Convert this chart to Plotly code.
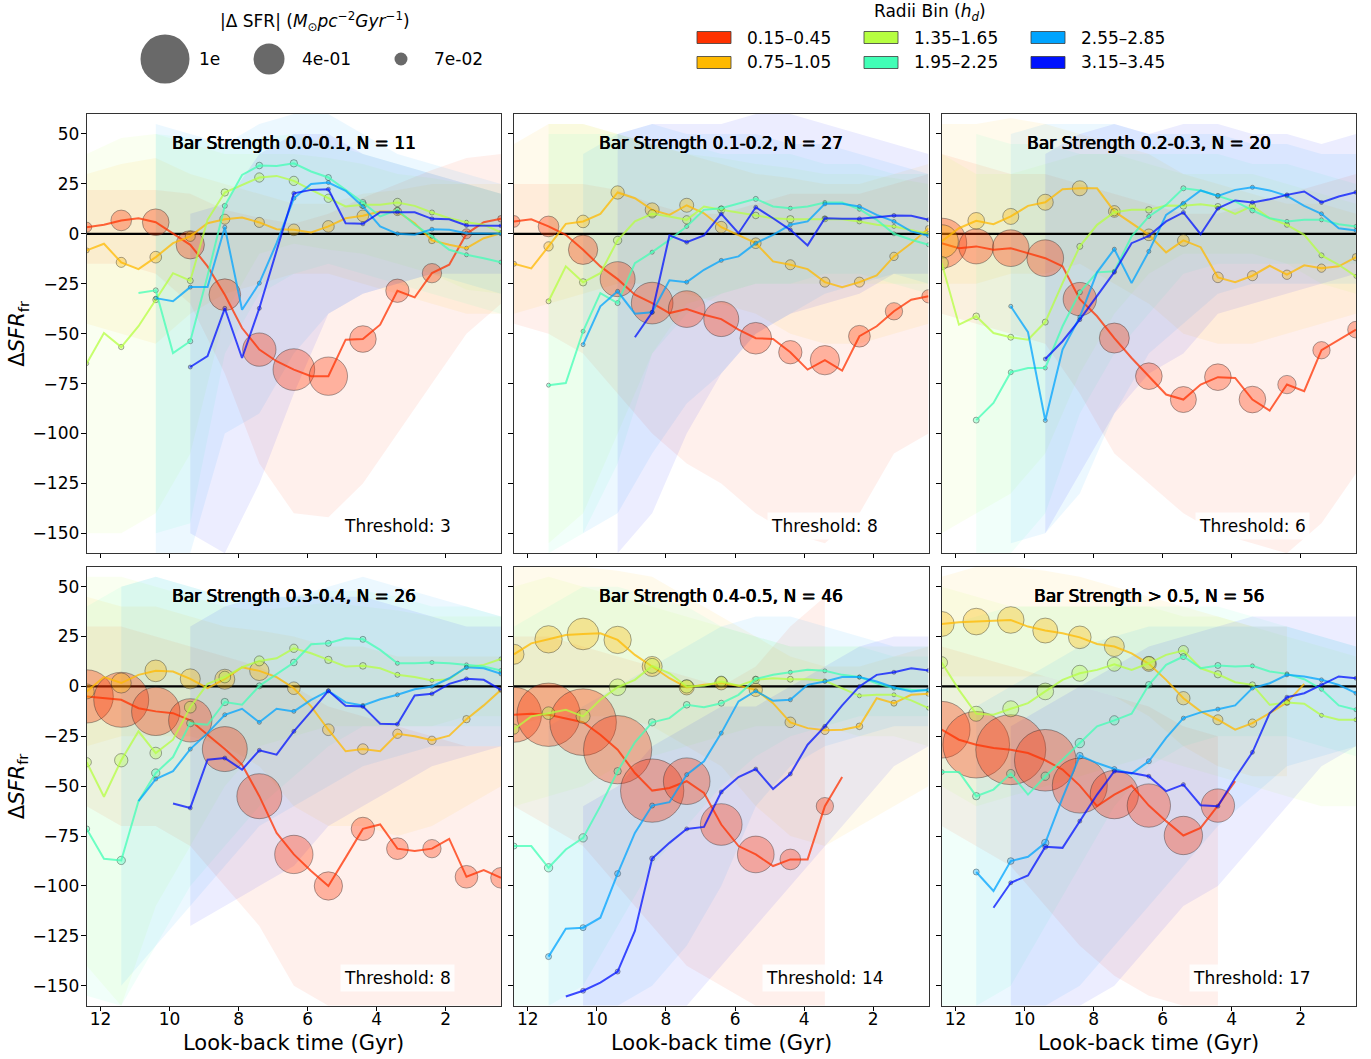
import plotly.graph_objects as go

N = None

# ---------------- data ----------------
TIMES = [12.4, 11.9, 11.4, 10.9, 10.4, 9.9, 9.4, 8.9, 8.4, 7.9, 7.4, 6.9, 6.4,
         5.9, 5.4, 4.9, 4.4, 3.9, 3.4, 2.9, 2.4, 1.9, 1.4, 0.9, 0.4]
MARKER_TIMES = [12.4, 11.4, 10.4, 9.4, 8.4, 7.4, 6.4, 5.4, 4.4, 3.4, 2.4, 1.4, 0.4]

RADII_LABELS = ["0.15\u20130.45", "0.75\u20131.05", "1.35\u20131.65",
                "1.95\u20132.25", "2.55\u20132.85", "3.15\u20133.45"]
RADII_COLORS = ["#FF3200", "#FFB900", "#B6FF41", "#41FFB6", "#00A4FF", "#0012FF"]

PANEL_TITLES = ["Bar Strength 0.0-0.1, N = 11", "Bar Strength 0.1-0.2, N = 27",
                "Bar Strength 0.2-0.3, N = 20", "Bar Strength 0.3-0.4, N = 26",
                "Bar Strength 0.4-0.5, N = 46", "Bar Strength > 0.5, N = 56"]
THRESHOLDS = [3, 8, 6, 8, 14, 17]

SIZE_LEGEND_VALUES = [1.0, 0.4, 0.07]
SIZE_LEGEND_LABELS = ["1e", "4e-01", "7e-02"]

X_TICKS = [12, 10, 8, 6, 4, 2]
Y_TICKS = [50, 25, 0, -25, -50, -75, -100, -125, -150]

# ---- Panel 1 : 0.0-0.1 ----
P1_Y = [
    [3.3, 4.5, 6.7, 7.8, 5.8, 0.3, -5.5, -16.3, -30.5, -47.2, -58, -63.8, -68, -71.3, -71.3, -53, -52.7, -45.5, -28.5, -31.8, -19.7, -15.5, 0, 5.8, 7.5],
    [-8.3, -5, -14.3, -17.7, -11.7, -4.7, -1.3, 5.3, 7.3, 8.2, 5.7, 2.3, 2, 0.7, 3.7, 7.8, 9, 11.2, 11.2, 5.3, -3.3, -5.5, -7.2, -2.2, 0.3],
    [-65, -49.7, -56.7, -46.3, -33, -19.7, -23.5, 7, 20.7, 24.5, 28.2, 29, 26.5, 22, 17.8, 13.7, 14.5, 14.5, 15.7, 14, 10.7, 7.8, 5.8, 4.5, 0.7],
    [N, N, N, -29.7, -28.3, -59.7, -53.8, -21, 14, 29.5, 34.2, 34, 35.3, 31.2, 28.2, 22, 15.7, 8.7, 12, 4.5, -1.3, -8, -10.5, -12.2, -14.2],
    [N, N, N, N, -32.2, -33.8, -26.7, -26.7, 3.3, -38, -24.7, -4.7, 17.8, 25, 25.7, 21.5, 13.7, 3.7, 0, -0.5, 2.3, 2, 0.3, 0, 0],
    [N, N, N, N, N, N, -66.7, -61.3, -37.3, -62.2, -37.3, -8, 20.3, 22, 22.3, 5.3, 5, 10.8, 10.8, 10.8, 7.5, 7.3, 4.2, 4, 4],
]
P1_S = [
    [0.042, 0.178, 0.296, 0.334, 0.418, 0.463, 0.723, 0.612, 0.296, 0.227, 0.156, 0.042, 0.0185],
    [0.0104, 0.042, 0.057, 0.042, 0.042, 0.042, 0.057, 0.057, 0.057, 0.029, 0.0185, 0.0067, 0.003],
    [0.0046, 0.0118, 0.015, 0.015, 0.0224, 0.0363, 0.0363, 0.029, 0.0224, 0.029, 0.0104, 0.0046, 0.0017],
    [N, N, 0.0104, 0.0104, 0.0104, 0.0185, 0.0224, 0.015, 0.015, 0.0104, 0.0046, 0.003, 0.0017],
    [N, N, 0.0046, 0.0046, 0.0046, 0.003, 0.0046, 0.0046, 0.003, 0.003, 0.003, 0.0017, 0.0012],
    [N, N, N, 0.0017, 0.0017, 0.003, 0.003, 0.003, 0.003, 0.003, 0.0017, 0.0017, 0.0012],
]
P1_LO = [
    [-15, -15, -20, -35, -70, -115, -140, -142, -125, -100, -75, -50, -35],
    [-45, -50, -55, -40, -30, -25, -20, -20, -25, -30, -35, -40, -40],
    [-150, -150, -140, -110, -40, -10, -5, -8, -10, -15, -20, -28, -30],
    [N, N, -150, -145, -60, -30, -20, -15, -20, -25, -30, -35, -40],
    [N, N, -160, -160, -100, -90, -60, -40, -30, -25, -20, -25, -30],
    [N, N, N, -150, -160, -125, -80, -40, -30, -25, -20, -20, -20],
]
P1_HI = [
    [22, 22, 22, 20, 12, 8, 5, 10, 18, 25, 32, 38, 40],
    [30, 35, 38, 30, 25, 20, 15, 15, 20, 22, 25, 25, 25],
    [40, 48, 50, 45, 40, 40, 40, 38, 35, 30, 28, 25, 20],
    [N, N, 50, 48, 45, 48, 50, 45, 40, 35, 30, 25, 20],
    [N, N, 55, 50, 45, 55, 60, 60, 50, 40, 35, 30, 25],
    [N, N, N, 10, 15, 40, 50, 50, 40, 35, 30, 25, 20],
]

# ---- Panel 2 : 0.1-0.2 ----
P2_Y = [
    [6.2, 7.3, 3.7, -0.5, -8, -16.3, -22.7, -30.5, -34.7, -39.7, -37.7, -40.5, -42.7, -48, -52.3, -52.7, -59.3, -68, -63.3, -68.5, -51.3, -46.3, -38.8, -33, -31.3],
    [-15, -17.3, -6.3, 5, 6.2, 10, 20.7, 17.8, 12, 9.5, 14.3, 10.3, 3.3, -0.5, -4.7, -13.8, -15.5, -17.7, -24.2, -26.8, -24.2, -20.8, -11.3, -4.7, 2.7],
    [N, N, -33.8, -16.3, -24.3, -19.7, -3.3, 6.2, 10, 8.7, 7, 13.7, 12, 10.7, 9.2, 7.8, 7.3, 7.3, 7.5, 7.3, 6.2, 4.5, 3.7, 1.7, 0],
    [N, N, -75.8, -74.7, -48.8, -29.7, -34.7, -14.7, -9.2, -3, 3.7, 12, 12.8, 15.3, 17.5, 13.7, 12.8, 13.7, 15.7, 15.7, 12.3, 7, 0, -3, -5.5],
    [N, N, N, N, -55.5, -36.3, -28.8, -40, -39.3, -23.3, -24.2, -18, -13.3, -11.3, -4.7, -0.5, 4.5, 6.2, 15, 15, 13.7, 9.5, 6.2, 1.2, -1],
    [N, N, N, N, N, N, N, -51.8, -39.3, -0.8, -4.2, -0.8, 10, 0.3, 13.3, 7.8, 2, -5.8, 7.8, 7.5, 7.5, 8.3, 9.2, 9, 7],
]
P2_S = [
    [0.057, 0.178, 0.358, 0.51, 0.723, 0.56, 0.51, 0.418, 0.227, 0.358, 0.196, 0.125, 0.074],
    [0.0104, 0.0363, 0.0668, 0.074, 0.0816, 0.0816, 0.057, 0.0474, 0.042, 0.042, 0.042, 0.029, 0.015],
    [N, 0.0104, 0.0224, 0.029, 0.029, 0.029, 0.0224, 0.0185, 0.0224, 0.015, 0.0104, 0.0067, 0.003],
    [N, 0.0046, 0.0067, 0.0104, 0.0067, 0.0067, 0.0104, 0.0104, 0.0067, 0.0067, 0.0046, 0.003, 0.0017],
    [N, N, 0.003, 0.003, 0.003, 0.003, 0.003, 0.003, 0.003, 0.003, 0.003, 0.003, 0.0017],
    [N, N, N, N, 0.003, 0.0017, 0.0017, 0.0017, 0.0017, 0.0017, 0.0017, 0.0017, 0.0012],
]
P2_LO = [
    [-45, -50, -60, -80, -100, -115, -125, -140, -150, -155, -140, -110, -100],
    [-40, -35, -30, -25, -25, -30, -35, -40, -50, -55, -55, -50, -45],
    [N, -155, -140, -100, -60, -35, -30, -25, -25, -25, -25, -25, -25],
    [N, -160, -150, -115, -60, -40, -30, -25, -25, -20, -20, -25, -30],
    [N, N, -150, -140, -110, -85, -70, -50, -40, -30, -25, -20, -25],
    [N, N, N, -160, -140, -100, -70, -50, -40, -35, -30, -20, -20],
]
P2_HI = [
    [25, 25, 25, 22, 15, 10, 10, 15, 20, 20, 20, 25, 30],
    [45, 55, 55, 50, 45, 40, 35, 30, 28, 25, 25, 30, 35],
    [N, 55, 55, 50, 45, 40, 38, 35, 33, 30, 30, 28, 25],
    [N, 50, 50, 50, 45, 45, 40, 40, 40, 35, 35, 30, 30],
    [N, N, 40, 50, 55, 50, 50, 50, 45, 45, 40, 35, 30],
    [N, N, N, 50, 55, 55, 55, 60, 60, 55, 50, 45, 40],
]

# ---- Panel 3 : 0.2-0.3 ----
P3_Y = [
    [-4.7, -7.2, -6.3, -8, -7.2, -9.7, -12.2, -16.3, -32.7, -41.3, -52.2, -62.2, -71.3, -80.5, -83, -75.5, -71.8, -72.2, -83, -88.5, -75.5, -78.8, -58.3, -53, -48],
    [-3.8, 2.8, 6.5, 4.8, 8.7, 14, 15.8, 22.3, 22.8, 22.8, 11.2, 5.3, -0.5, -9.3, -3.3, -6.7, -21.8, -24.2, -21, -16, -20.5, -15.8, -17.2, -16.3, -11.7],
    [-14.7, -45.5, -41.3, -49.7, -51.8, -53, -44.2, -24.7, -6.3, 4.5, 10.8, 12, 12, 14.2, 14, 14.8, 13.7, 10, 14, 7.8, 4.5, -0.5, -10.8, -15.5, -21.3],
    [N, N, -93.3, -84.7, -69.3, -67.2, -67.2, -46.3, -29.3, -19.3, -18.8, -1.3, 8.7, 14.5, 22.8, 21.7, 19, 16.2, 11.7, 7.8, 6.2, 7, 7, 4.8, 3.7],
    [N, N, N, N, -36.3, -49.3, -93.5, -58, -41.7, -19.3, -7.7, -24.7, -8.8, 9.5, 15.3, 21.7, 19, 22, 23.3, 21.7, 19, 14, 10, 2.8, 1.7],
    [N, N, N, N, N, N, -62.7, -53.8, -43, -31.3, -19.2, -4.7, -1, 6.2, 10.7, -0.2, 12.8, 16.7, 15.7, 17.3, 19.5, 21.2, 15.7, 18.7, 20.8],
]
P3_S = [
    [1.04, 0.51, 0.56, 0.56, 0.463, 0.375, 0.296, 0.282, 0.296, 0.296, 0.14, 0.125, 0.116],
    [0.463, 0.116, 0.107, 0.107, 0.094, 0.057, 0.057, 0.057, 0.0474, 0.042, 0.0363, 0.029, 0.0224],
    [0.074, 0.0185, 0.015, 0.015, 0.015, 0.0224, 0.0185, 0.0185, 0.015, 0.015, 0.0104, 0.0104, 0.0067],
    [N, 0.015, 0.0104, 0.0067, 0.0104, 0.0067, 0.0067, 0.0104, 0.0104, 0.0104, 0.0067, 0.0046, 0.003],
    [N, N, 0.003, 0.003, 0.003, 0.003, 0.003, 0.003, 0.003, 0.003, 0.0017, 0.0017, 0.0012],
    [N, N, N, 0.0017, 0.0017, 0.0017, 0.0017, 0.0017, 0.0017, 0.0017, 0.0017, 0.0017, 0.0012],
]
P3_LO = [
    [-40, -45, -50, -55, -80, -110, -125, -140, -150, -155, -160, -145, -120],
    [-25, -25, -20, -20, -15, -25, -35, -50, -55, -55, -50, -45, -40],
    [-150, -140, -130, -110, -70, -40, -20, -10, -10, -10, -15, -25, -30],
    [N, -160, -160, -140, -90, -60, -40, -20, -15, -15, -15, -15, -15],
    [N, N, -155, -150, -130, -90, -60, -45, -30, -25, -25, -25, -25],
    [N, N, N, -150, -120, -90, -70, -60, -40, -35, -30, -25, -20],
]
P3_HI = [
    [40, 35, 30, 30, 25, 20, 15, 10, 10, 15, 20, 25, 30],
    [55, 55, 58, 55, 50, 45, 40, 30, 25, 20, 15, 15, 10],
    [40, 30, 30, 35, 40, 40, 35, 30, 30, 30, 25, 20, 15],
    [N, 50, 45, 45, 40, 40, 40, 40, 40, 35, 35, 30, 25],
    [N, N, 50, 55, 55, 55, 50, 50, 50, 45, 45, 40, 40],
    [N, N, N, 40, 50, 55, 50, 55, 55, 50, 50, 45, 50],
]

# ---- Panel 4 : 0.3-0.4 ----
P4_Y = [
    [-5, -5.9, -6.7, -10.9, -12.5, -13.4, -17, -24.2, -31.4, -39.2, -55, -73.4, -84.2, -92.5, -100, -85.8, -71.4, -69.2, -81.3, -82.5, -81.3, -76.4, -95.4, -92, -95.9],
    [-2.5, 4.7, 1.7, 5.8, 7.8, 7.5, 3.8, -0.9, 3.6, 9.6, 7.8, 4.7, -0.9, -10, -21.7, -32.5, -31.4, -32.5, -23.7, -25, -27, -24.7, -16.4, -9.5, -1.7],
    [-38, -55.3, -37, -22.5, -33.4, -26.7, -10.4, 1.3, 4.7, 9.6, 12.8, 14.1, 19.1, 16.6, 13.3, 10, 10.3, 9.1, 5.8, 4.7, 3, 3.6, 9.6, 10.8, 13.8],
    [-71.4, -86.4, -87.2, -57.5, -43.4, -35.4, -18.4, -19.2, -7.8, -9.2, 0.3, 6.3, 12, 21.1, 21.6, 24.1, 23.6, 18.3, 11.6, 11.6, 12, 11.6, 10.8, 10, 8],
    [N, N, N, -57.5, -46.4, -42.5, -31.4, -23.4, -14.2, -11.2, -18, -11.2, -12.5, -6.7, -2.2, -8, -9.5, -6.4, -4.2, -1.4, 0, 4.1, 9.6, 9.1, 6.3],
    [N, N, N, N, N, -58.7, -60.9, -36.7, -35.9, -41.7, -32, -34.2, -22.5, -12.5, -2.2, -9.7, -10, -18.7, -18.9, -4.5, -3.7, 1.3, 3.8, 3.3, -1.7],
]
P4_S = [
    [1.18, 1.26, 0.973, 0.782, 0.843, 0.843, 0.612, 0.334, 0.227, 0.196, 0.14, 0.214, 0.178],
    [0.094, 0.167, 0.196, 0.167, 0.167, 0.156, 0.0668, 0.057, 0.0474, 0.0363, 0.029, 0.0224, 0.0104],
    [0.0363, 0.074, 0.057, 0.057, 0.057, 0.042, 0.029, 0.0224, 0.0185, 0.0104, 0.0067, 0.0046, 0.0046],
    [0.015, 0.029, 0.029, 0.0224, 0.0224, 0.015, 0.0185, 0.015, 0.015, 0.0067, 0.0046, 0.0046, 0.003],
    [N, N, 0.0067, 0.0046, 0.0046, 0.0046, 0.0046, 0.003, 0.003, 0.003, 0.0017, 0.0017, 0.0017],
    [N, N, N, 0.003, 0.003, 0.003, 0.003, 0.0017, 0.0017, 0.0017, 0.0017, 0.0017, 0.0012],
]
P4_LO = [
    [-60, -70, -70, -80, -100, -120, -150, -160, -160, -160, -160, -160, -160],
    [-30, -25, -25, -25, -30, -40, -60, -70, -70, -75, -70, -60, -50],
    [-140, -160, -110, -80, -50, -30, -25, -20, -20, -20, -20, -15, -15],
    [-155, -160, -130, -100, -80, -60, -45, -30, -20, -20, -20, -20, -20],
    [N, -150, -130, -110, -90, -70, -60, -50, -40, -35, -30, -30, -30],
    [N, N, N, -120, -110, -100, -90, -70, -60, -50, -40, -35, -30],
]
P4_HI = [
    [30, 30, 25, 20, 15, 10, 0, -10, -15, -20, -25, -30, -30],
    [45, 40, 40, 35, 30, 28, 25, 20, 20, 15, 15, 15, 15],
    [55, 55, 50, 45, 40, 38, 40, 42, 40, 38, 35, 35, 35],
    [40, 50, 55, 50, 45, 45, 45, 48, 48, 45, 40, 40, 35],
    [N, 50, 55, 50, 45, 45, 45, 50, 55, 50, 45, 40, 35],
    [N, N, N, 30, 40, 45, 45, 45, 45, 40, 35, 30, 30],
]

# ---- Panel 5 : 0.4-0.5 ----
P5_Y = [
    [-14.2, -13.7, -14.2, -15.9, -17.9, -24.2, -31.7, -43.4, -52.2, -50.9, -47.5, -53.4, -69.2, -80, -84.2, -90, -86.7, -86.7, -60, -45.4, N, N, N, N, N],
    [16.1, 21.6, 23.6, 25.8, 26.3, 26.6, 23.3, 15.8, 10, 4.1, -0.5, 0.8, 1.6, 0.3, -1.7, -8.4, -18, -20.9, -22, -21.7, -20, -5.9, -8.4, -4.2, -3.7],
    [-21.4, -15, -13.4, -11.7, -15, -6.7, -0.4, 3.3, 10.3, 6.6, 0, 0.3, 2.5, 0.3, 3.3, 4.1, 3.6, 3.6, 2.8, -0.8, -4.7, -4.2, -4.2, -7, -10.9],
    [-80, -80, -90.9, -81.7, -75.9, -60, -42.5, -28, -18, -15.9, -9.2, -10.4, -8.4, -4.2, 3.8, 5.8, 7.1, 8.3, 7.8, 5.8, 4.7, 1.6, -0.9, -1.7, -2],
    [N, N, -135.4, -121.4, -120.9, -115.9, -93.8, -73.4, -59.7, -58, -44.2, -37.5, -23.4, -7.5, -2.2, -7.2, -6.7, 0.8, 2.5, 4.7, 4.7, 2.5, -0.5, -2.5, -1.7],
    [N, N, N, -155.4, -152.5, -148.4, -142.9, -122.5, -86.2, -78.4, -71.4, -70.4, -52.9, -45.4, -41.4, -51.4, -43.9, -29.2, -20, -9.5, 0, 5.8, 7.1, 9.1, 8],
]
P5_S = [
    [1.26, 1.67, 1.85, 1.94, 1.67, 0.907, 0.723, 0.56, 0.178, 0.125, N, N, N],
    [0.167, 0.311, 0.418, 0.311, 0.167, 0.094, 0.074, 0.074, 0.0474, 0.029, 0.0185, 0.015, 0.0104],
    [0.042, 0.0668, 0.0816, 0.116, 0.094, 0.074, 0.0474, 0.0224, 0.015, 0.0067, 0.0067, 0.0046, 0.003],
    [0.015, 0.029, 0.029, 0.0224, 0.0224, 0.0185, 0.015, 0.0104, 0.0067, 0.0046, 0.003, 0.0017, 0.0017],
    [N, 0.015, 0.015, 0.015, 0.0104, 0.0067, 0.0046, 0.0046, 0.003, 0.003, 0.003, 0.003, 0.0017],
    [N, N, 0.0104, 0.0104, 0.0104, 0.0046, 0.003, 0.003, 0.003, 0.0017, 0.0017, 0.0017, 0.0017],
]
P5_LO = [
    [-60, -70, -80, -100, -120, -140, -150, -160, -160, -160, N, N, N],
    [-20, -15, -15, -15, -20, -30, -40, -60, -75, -80, -70, -60, -50],
    [-60, -55, -50, -40, -35, -30, -25, -20, -20, -20, -25, -25, -30],
    [-160, -160, -150, -120, -90, -70, -50, -35, -25, -20, -15, -15, -15],
    [N, -160, -160, -160, -150, -130, -100, -60, -40, -30, -25, -20, -20],
    [N, N, -160, -160, -160, -160, -140, -120, -100, -80, -60, -40, -30],
]
P5_HI = [
    [25, 25, 20, 15, 10, 5, 0, 10, 30, 45, N, N, N],
    [60, 60, 60, 58, 55, 45, 35, 25, 15, 10, 10, 15, 20],
    [50, 55, 50, 45, 40, 35, 30, 25, 20, 20, 20, 20, 20],
    [30, 40, 50, 50, 45, 40, 30, 25, 20, 20, 20, 15, 15],
    [N, -20, -10, 0, 10, 20, 30, 35, 35, 30, 25, 20, 20],
    [N, N, -60, -50, -30, -20, -10, -10, 0, 10, 20, 25, 25],
]

# ---- Panel 6 : > 0.5 ----
P6_Y = [
    [-21.7, -26.7, -29.2, -30.9, -31.7, -33.4, -37, -41.7, -49.7, -60, -54.2, -49.7, -59.7, -67.5, -74.7, -70.9, -59.7, -47.5, N, N, N, N, N, N, N],
    [31.3, 32.1, 32.5, 32.8, 33.3, 30, 28, 26.6, 24.6, 21.3, 20, 16.6, 11.3, 3.3, -5.9, -12.5, -16.7, -21.7, -18.4, -13.4, -8, 1.3, N, N, N],
    [12, -1.7, -13.7, -14.2, -11.2, -8.4, -2.5, 3.3, 6.6, 8.3, 11.1, 8.3, 11.6, 15.8, 18, 9.1, 6.1, 2.1, 0.8, -9.2, -8, -8.7, -14.5, -16.7, -16.7],
    [-42.9, -42.9, -55, -51.7, -43.7, -54.2, -45, -36.7, -28.4, -20, -17, -13.7, 0.8, 10.8, 15, 9.1, 10.5, 10, 10.3, 7.5, 6.3, 3.6, -1.4, -9.5, -11.7],
    [N, N, -93, -102.5, -87.5, -85.4, -78.4, -55.9, -34.7, -38.4, -41.4, -43.7, -37.5, -25.8, -15.9, -13, -11.4, -9.5, -0.8, 1.6, 5.8, 5, 3.3, 0.8, -3.4],
    [N, N, N, -110.9, -98.4, -94.7, -80.4, -80.9, -67.5, -54.2, -42.5, -43.4, -45, -52.5, -49.2, -59.5, -60, -45.9, -33, -13.4, -5.4, -3.4, 0.8, 5, 4.1],
]
P6_S = [
    [1.34, 1.85, 2.04, 1.58, 1.26, 0.973, 0.782, 0.612, 0.463, N, N, N, N],
    [0.26, 0.296, 0.296, 0.26, 0.214, 0.167, 0.094, 0.074, 0.042, 0.029, 0.015, N, N],
    [0.057, 0.094, 0.107, 0.116, 0.107, 0.0816, 0.074, 0.042, 0.0224, 0.015, 0.0104, 0.0067, 0.0046],
    [0.0104, 0.0224, 0.029, 0.029, 0.0363, 0.0363, 0.0185, 0.015, 0.015, 0.0067, 0.0046, 0.003, 0.003],
    [N, 0.015, 0.0185, 0.0224, 0.0185, 0.0104, 0.0104, 0.0067, 0.0067, 0.0046, 0.0046, 0.003, 0.0017],
    [N, N, 0.0067, 0.0104, 0.0046, 0.003, 0.003, 0.003, 0.003, 0.003, 0.0017, 0.0017, 0.0012],
]
P6_LO = [
    [-70, -80, -90, -110, -130, -145, -155, -160, -160, N, N, N, N],
    [5, 5, 5, 5, 0, -5, -15, -30, -40, -45, -45, N, N],
    [-50, -60, -55, -50, -45, -40, -35, -40, -45, -50, -55, -60, -60],
    [-160, -160, -150, -120, -90, -60, -40, -30, -25, -25, -25, -30, -35],
    [N, -160, -160, -160, -150, -130, -110, -90, -70, -55, -40, -35, -30],
    [N, N, -160, -160, -160, -150, -130, -110, -100, -80, -60, -40, -30],
]
P6_HI = [
    [20, 15, 10, 5, 0, -5, -10, -20, -25, N, N, N, N],
    [55, 60, 60, 58, 55, 50, 45, 40, 35, 30, 30, N, N],
    [50, 45, 40, 40, 40, 40, 40, 35, 35, 30, 25, 20, 15],
    [30, 35, 40, 40, 40, 40, 40, 40, 40, 35, 30, 25, 20],
    [N, -10, 0, 10, 20, 25, 30, 30, 30, 30, 30, 25, 20],
    [N, N, -20, -10, 0, 10, 20, 25, 30, 35, 35, 35, 35],
]

PANELS = [(P1_Y, P1_S, P1_LO, P1_HI), (P2_Y, P2_S, P2_LO, P2_HI),
          (P3_Y, P3_S, P3_LO, P3_HI), (P4_Y, P4_S, P4_LO, P4_HI),
          (P5_Y, P5_S, P5_LO, P5_HI), (P6_Y, P6_S, P6_LO, P6_HI)]

# ---------------- layout helpers ----------------
W, H = 1371, 1059
X_DOM = [[86.7, 501.0], [514.0, 928.5], [941.7, 1356.0]]   # pixels
Y_DOM = [[114.0, 553.3], [566.7, 1005.7]]                  # pixels from top
SIZEREF = 2.0 * 1.0 / (49.0 ** 2)   # |dSFR| = 1 -> 49 px diameter
FONT = "DejaVu Sans"


def rgba(hexc, a):
    h = hexc.lstrip('#')
    return 'rgba(%d,%d,%d,%s)' % (int(h[0:2], 16), int(h[2:4], 16), int(h[4:6], 16), a)


fig = go.Figure()
layout = dict(width=W, height=H, margin=dict(l=0, r=0, t=0, b=0, pad=0),
              paper_bgcolor='white', plot_bgcolor='rgba(0,0,0,0)',
              showlegend=False, hovermode=False,
              font=dict(family=FONT, size=17, color='black'))
annotations = []
shapes = []

for p, (Ys, Ss, LOs, HIs) in enumerate(PANELS):
    row, col = divmod(p, 3)
    ax = '' if p == 0 else str(p + 1)
    xa, ya = 'x' + ax, 'y' + ax
    layout['xaxis' + ax] = dict(
        domain=[X_DOM[col][0] / W, X_DOM[col][1] / W], range=[12.4, 0.4],
        autorange=False, anchor=ya, tickmode='array', tickvals=X_TICKS,
        ticks='outside', ticklen=4, tickwidth=1, tickcolor='black',
        ticklabelstandoff=-6,
        showticklabels=(row == 1), tickfont=dict(family=FONT, size=17, color='black'),
        showline=True, mirror=True, linecolor='#333333', linewidth=1,
        showgrid=False, zeroline=False, fixedrange=True)
    layout['yaxis' + ax] = dict(
        domain=[1 - Y_DOM[row][1] / H, 1 - Y_DOM[row][0] / H], range=[-160, 60],
        autorange=False, anchor=xa, tickmode='array', tickvals=Y_TICKS,
        ticks='outside', ticklen=5, tickwidth=1, tickcolor='black',
        ticklabelstandoff=-2,
        showticklabels=(col == 0), tickfont=dict(family=FONT, size=17, color='black'),
        showline=True, mirror=True, linecolor='#333333', linewidth=1,
        showgrid=False, zeroline=False, fixedrange=True)

    # shaded ranges
    for k in range(6):
        pts = [(t, lo, hi) for t, lo, hi in zip(MARKER_TIMES, LOs[k], HIs[k])
               if lo is not None and hi is not None]
        ts = [q[0] for q in pts]
        los = [q[1] for q in pts]
        his = [q[2] for q in pts]
        fig.add_trace(go.Scatter(
            x=ts + ts[::-1], y=his + los[::-1], mode='lines', fill='toself',
            fillcolor=rgba(RADII_COLORS[k], 0.075), line=dict(width=0),
            xaxis=xa, yaxis=ya, hoverinfo='skip'))

    # zero line
    fig.add_trace(go.Scatter(x=[12.4, 0.4], y=[0, 0], mode='lines',
                             line=dict(color='black', width=2.2),
                             xaxis=xa, yaxis=ya, hoverinfo='skip'))

    # series
    for k in range(6):
        mp = [(t, y, s) for t, y, s in zip(MARKER_TIMES, Ys[k][::2], Ss[k])
              if y is not None and s is not None]
        fig.add_trace(go.Scatter(
            x=[q[0] for q in mp], y=[q[1] for q in mp], mode='markers',
            marker=dict(size=[q[2] for q in mp], sizemode='area', sizeref=SIZEREF,
                        sizemin=2, opacity=1, color=rgba(RADII_COLORS[k], 0.33),
                        line=dict(color='rgba(40,40,40,0.4)', width=1)),
            xaxis=xa, yaxis=ya, hoverinfo='skip'))
        lp = [(t, y) for t, y in zip(TIMES, Ys[k]) if y is not None]
        fig.add_trace(go.Scatter(
            x=[q[0] for q in lp], y=[q[1] for q in lp], mode='lines',
            line=dict(color=rgba(RADII_COLORS[k], 0.75), width=2),
            xaxis=xa, yaxis=ya, hoverinfo='skip'))

    # panel title and threshold
    annotations.append(dict(
        text=PANEL_TITLES[p], xref=xa + ' domain', yref=ya + ' domain',
        x=0.5, y=0.934, xanchor='center', yanchor='middle', showarrow=False,
        font=dict(family=FONT, size=17, color='black',
                  shadow='0.55px 0px 0px black, -0.25px 0px 0px black')))
    annotations.append(dict(
        text='Threshold: %d' % THRESHOLDS[p], xref=xa + ' domain', yref=ya + ' domain',
        x=0.75, y=0.063, xanchor='center', yanchor='middle', showarrow=False,
        bgcolor='rgba(255,255,255,0.85)', borderpad=3,
        font=dict(family=FONT, size=17, color='black')))

# axis titles
for row in range(2):
    yc = 1 - (Y_DOM[row][0] + Y_DOM[row][1]) / 2 / H
    annotations.append(dict(text='\u0394<i>SFR</i><sub>fr</sub>', xref='paper', yref='paper',
                            x=18 / W, y=yc, xanchor='center', yanchor='middle',
                            textangle=-90, showarrow=False,
                            font=dict(family=FONT, size=21, color='black')))
for col in range(3):
    xc = (X_DOM[col][0] + X_DOM[col][1]) / 2 / W
    annotations.append(dict(text='Look-back time (Gyr)', xref='paper', yref='paper',
                            x=xc, y=1 - 1043 / H, xanchor='center', yanchor='middle',
                            showarrow=False, font=dict(family=FONT, size=21, color='black')))

# ---------- size legend (overlay pixel axis) ----------
layout['xaxis7'] = dict(domain=[0, 1], range=[0, W], visible=False, anchor='y7', fixedrange=True)
layout['yaxis7'] = dict(domain=[0, 1], range=[H, 0], visible=False, anchor='x7', fixedrange=True)
SIZE_LEG_X = [165, 269, 401]
fig.add_trace(go.Scatter(x=SIZE_LEG_X, y=[59, 59, 59], mode='markers',
                         marker=dict(size=SIZE_LEGEND_VALUES, sizemode='area', sizeref=SIZEREF,
                                     opacity=1, color='rgb(105,105,105)', line=dict(width=0)),
                         xaxis='x7', yaxis='y7', hoverinfo='skip'))
for lx, lab in zip([197, 300, 432], SIZE_LEGEND_LABELS):
    annotations.append(dict(text=lab, xref='paper', yref='paper', x=lx / W, y=1 - 59 / H,
                            xanchor='left', yanchor='middle', showarrow=False,
                            font=dict(family=FONT, size=17, color='black')))
annotations.append(dict(
    text='|\u0394 SFR| (<i>M</i><sub>\u2299</sub><i>pc</i><sup>\u22122</sup><i>Gyr</i><sup>\u22121</sup>)',
    xref='paper', yref='paper', x=315 / W, y=1 - 22 / H, xanchor='center', yanchor='middle',
    showarrow=False, font=dict(family=FONT, size=17, color='black')))

# ---------- radii legend ----------
annotations.append(dict(text='Radii Bin (<i>h</i><sub><i>d</i></sub>)', xref='paper', yref='paper',
                        x=930 / W, y=1 - 13 / H, xanchor='center', yanchor='middle',
                        showarrow=False, font=dict(family=FONT, size=17, color='black')))
PATCH_X = [697, 864, 1031]
LABEL_X = [745, 912, 1079]
ROW_Y = [37.5, 62.5]
for k in range(6):
    c, r = divmod(k, 2)
    shapes.append(dict(type='rect', xref='paper', yref='paper',
                       x0=PATCH_X[c] / W, x1=(PATCH_X[c] + 34) / W,
                       y0=1 - (ROW_Y[r] + 6) / H, y1=1 - (ROW_Y[r] - 6) / H,
                       fillcolor=RADII_COLORS[k], line=dict(color='rgba(60,60,60,0.8)', width=1)))
    annotations.append(dict(text=RADII_LABELS[k], xref='paper', yref='paper',
                            x=LABEL_X[c] / W, y=1 - ROW_Y[r] / H, xanchor='left', yanchor='middle',
                            showarrow=False, font=dict(family=FONT, size=17, color='black')))

layout['annotations'] = annotations
layout['shapes'] = shapes
fig.update_layout(**layout)
fig.write_html("out.html")
